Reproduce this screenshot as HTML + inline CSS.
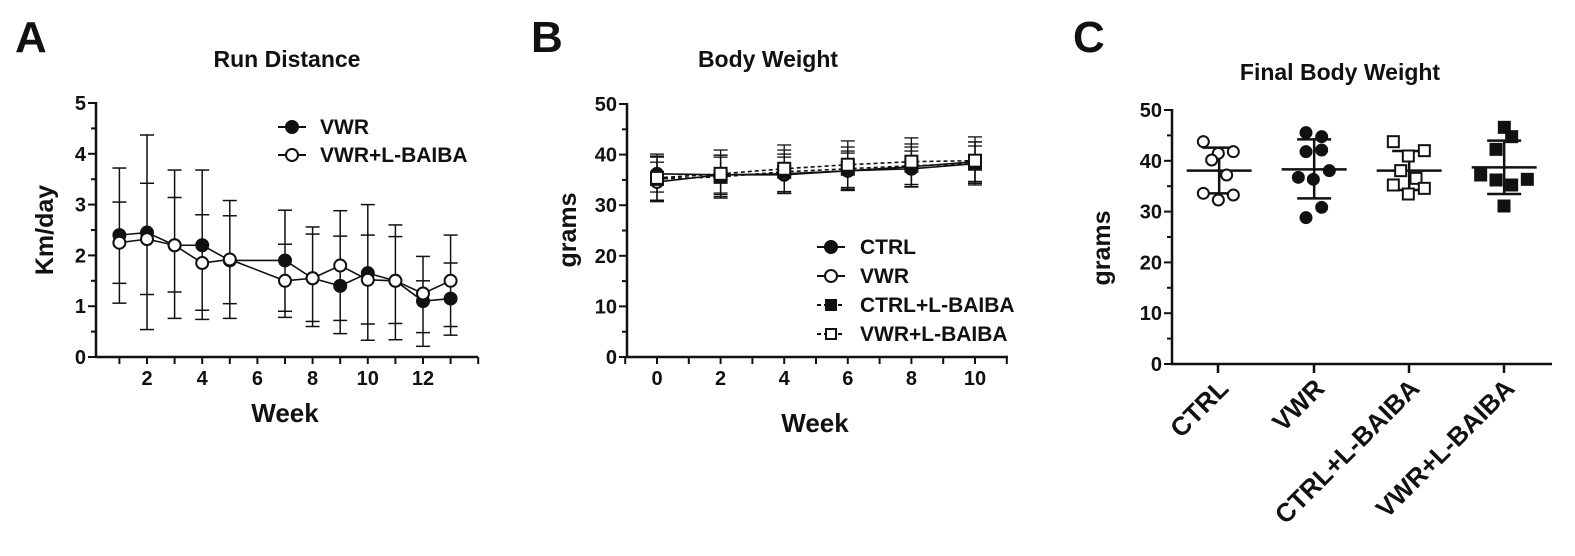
<!DOCTYPE html>
<html><head><meta charset="utf-8"><style>
body{margin:0;background:#fff}
svg{display:block}
text{font-family:"Liberation Sans",Arial,sans-serif;font-weight:bold;fill:#111}
</style></head><body>
<svg id="s" width="1575" height="556" viewBox="0 0 1575 556" xmlns="http://www.w3.org/2000/svg">
<text x="15" y="52" font-size="44">A</text>
<text x="531" y="52" font-size="44">B</text>
<text x="1073" y="52" font-size="44">C</text>
<text x="287" y="67" font-size="23" text-anchor="middle">Run Distance</text>
<text x="768" y="67" font-size="23" text-anchor="middle">Body Weight</text>
<text x="1340" y="80" font-size="23" text-anchor="middle">Final Body Weight</text>
<text transform="translate(53 230) rotate(-90)" font-size="25" text-anchor="middle">Km/day</text>
<text x="285" y="422" font-size="26" text-anchor="middle">Week</text>
<text transform="translate(576 230) rotate(-90)" font-size="25" text-anchor="middle">grams</text>
<text x="815" y="432" font-size="26" text-anchor="middle">Week</text>
<text transform="translate(1110 248) rotate(-90)" font-size="25" text-anchor="middle">grams</text>
<g id="g"></g>
</svg>
<script>
var g=document.getElementById('g'),h='';
function L(x1,y1,x2,y2,w,d){h+='<line x1="'+x1+'" y1="'+y1+'" x2="'+x2+'" y2="'+y2+'" stroke="#111" stroke-width="'+(w||2)+'"'+(d?' stroke-dasharray="'+d+'"':'')+'/>';}
function T(x,y,s,sz,a){h+='<text x="'+x+'" y="'+y+'" font-size="'+(sz||17)+'" text-anchor="'+(a||'end')+'">'+s+'</text>';}
function C(x,y,f,r){h+='<circle cx="'+x+'" cy="'+y+'" r="'+(r||6)+'" fill="'+(f?'#111':'#fff')+'" stroke="#111" stroke-width="2"/>';}
function S(x,y,f,r){r=r||6;h+='<rect x="'+(x-r)+'" y="'+(y-r)+'" width="'+2*r+'" height="'+2*r+'" fill="'+(f?'#111':'#fff')+'" stroke="#111" stroke-width="2"/>';}
function P(pts,d){h+='<polyline points="'+pts.map(p=>p.join(',')).join(' ')+'" fill="none" stroke="#111" stroke-width="1.6"'+(d?' stroke-dasharray="'+d+'"':'')+'/>';}
// Panel A
var ax=96,a0=357,ay=50.8,wx=27.6,w0=91.8;
function AY(v){return a0-v*ay}function AX(w){return w0+w*wx}
L(ax,102,ax,a0+1,2.5);L(ax-1,a0,478,a0,2.5);
for(var i=0;i<=5;i++){L(ax-8,AY(i),ax,AY(i),2);T(ax-10,AY(i)+7,i,20);}
for(var i=0.5;i<5;i+=1)L(ax-5,AY(i),ax,AY(i),2);
for(var w=1;w<=14;w++){L(AX(w),a0,AX(w),a0+7,2);if(w%2==0&&w<=12)T(AX(w),a0+28,w,20,'middle');}
var wk=[1,2,3,4,5,7,8,9,10,11,12,13];
var f=[2.4,2.45,2.2,2.2,1.9,1.9,1.55,1.4,1.65,1.5,1.1,1.15];
var o=[2.25,2.32,2.2,1.85,1.92,1.5,1.55,1.8,1.52,1.5,1.25,1.5];
var eb=[[3.72,3.05,1.45,1.06],[4.37,3.42,1.23,0.54],[3.68,3.14,1.28,0.76],[3.68,2.8,0.92,0.74],[3.08,2.78,1.05,0.76],[2.89,2.22,0.9,0.78],[2.56,2.42,0.7,0.6],[2.88,2.38,0.72,0.46],[3.0,2.4,0.65,0.33],[2.6,2.37,0.66,0.34],[1.98,1.5,0.48,0.21],[2.4,1.85,0.6,0.43]];
wk.forEach((w,i)=>{var x=AX(w),e=eb[i];L(x,AY(e[0]),x,AY(e[3]),1.5);e.forEach(v=>L(x-7,AY(v),x+7,AY(v),1.5));});
P(wk.map((w,i)=>[AX(w),AY(f[i])]));P(wk.map((w,i)=>[AX(w),AY(o[i])]));
wk.forEach((w,i)=>C(AX(w),AY(f[i]),1));wk.forEach((w,i)=>C(AX(w),AY(o[i]),0));
L(278,127,306,127,2);C(292,127,1);T(320,134,'VWR',21,'start');
L(278,155,306,155,2);C(292,155,0);T(320,162,'VWR+L-BAIBA',21,'start');
// Panel B
var bx=627,b0=357,by=5.06,bw=31.8,bw0=657;
function BY(v){return b0-v*by}function BX(w){return bw0+w*bw}
L(bx,103,bx,b0+1,2.5);L(bx-1,b0,1008,b0,2.5);
for(var i=0;i<=50;i+=10){L(bx-8,BY(i),bx,BY(i),2);T(bx-10,BY(i)+7,i,20);}
for(var i=5;i<50;i+=10)L(bx-5,BY(i),bx,BY(i),2);
for(var w=-1;w<=11;w++){L(BX(w),b0,BX(w),b0+7,2);if(w%2==0&&w>=0&&w<=10)T(BX(w),b0+28,w,20,'middle');}
var bws=[0,2,4,6,8,10];
var ser=[[36.2,36,36,36.8,37.2,38.2],[34.6,36,36.2,36.8,37.6,38.6],[35.2,35.6,36.6,37.2,37.8,38.2],[35.4,36.2,37.2,38,38.6,38.8]];
bws.forEach((w,i)=>{var x=BX(w);ser.forEach((s,k)=>{var u=s[i]+3.5+k*0.4,d=s[i]-3.6-k*0.3;L(x,BY(u),x,BY(d),1.3);L(x-7,BY(u),x+7,BY(u),1.3);L(x-7,BY(d),x+7,BY(d),1.3);});});
ser.forEach((s,k)=>P(bws.map((w,i)=>[BX(w),BY(s[i])]),k>=2?'4,3':''));
bws.forEach((w,i)=>{C(BX(w),BY(ser[0][i]),1);C(BX(w),BY(ser[1][i]),0);S(BX(w),BY(ser[2][i]),1);S(BX(w),BY(ser[3][i]),0);});
var lg=[['CTRL',0,1],['VWR',0,0],['CTRL+L-BAIBA',1,1],['VWR+L-BAIBA',1,0]];
lg.forEach((l,i)=>{var y=247+i*29;L(817,y,845,y,2,l[1]?'4,3':'');if(l[1])S(831,y,l[2],5);else C(831,y,l[2]);T(860,y+7,l[0],21,'start');});
// Panel C
var cx=1172,c0=364,cy=5.08;
function CY(v){return c0-v*cy}
L(cx,109,cx,c0+1,2.5);L(cx-1,c0,1552,c0,2.5);
for(var i=0;i<=50;i+=10){L(cx-8,CY(i),cx,CY(i),2);T(cx-10,CY(i)+7,i,20);}
for(var i=5;i<50;i+=10)L(cx-5,CY(i),cx,CY(i),2);
var gx=[1218,1314,1409,1504];
gx.forEach(x=>L(x,c0,x,c0+9,2.5));
function Z(zx,zy){return [1060+zx/3,80+zy/3];}
var pts=[
 [[430,185],[475,220],[520,215],[455,240],[500,285],[430,340],[475,360],[520,345]],
 [[738,158],[785,170],[738,215],[785,210],[715,292],[760,298],[808,272],[785,382],[738,413]],
 [[1000,185],[1045,228],[1093,212],[1022,272],[1068,295],[1000,315],[1093,325],[1045,342]],
 [[1333,142],[1355,170],[1308,208],[1262,285],[1308,300],[1355,315],[1402,298],[1332,378]]];
var mean=[[380,575,272,203,340],[665,860,268,178,355],[950,1145,272,213,0],[1235,1430,262,182,342]];
mean.forEach((m,i)=>{var a=Z(m[0],m[2]),b=Z(m[1],m[2]);L(a[0],a[1],b[0],b[1],2.5);var xm=(a[0]+b[0])/2;var t=Z(0,m[3])[1],bb=Z(0,m[4]||330)[1];L(xm,t,xm,bb,2.5);L(xm-17,t,xm+17,t,2.5);L(xm-17,bb,xm+17,bb,2.5);});
pts[0].forEach(p=>{var q=Z(p[0],p[1]);C(q[0],q[1],0,5.5);});
pts[1].forEach(p=>{var q=Z(p[0],p[1]);C(q[0],q[1],1,5.5);});
pts[2].forEach(p=>{var q=Z(p[0],p[1]);S(q[0],q[1],0,5.5);});
pts[3].forEach(p=>{var q=Z(p[0],p[1]);S(q[0],q[1],1,5.5);});
['CTRL','VWR','CTRL+L-BAIBA','VWR+L-BAIBA'].forEach((s,i)=>{h+='<text transform="translate('+(gx[i]+12)+' 390) rotate(-45)" font-size="26" text-anchor="end">'+s+'</text>';});
g.innerHTML=h;
</script>
</body></html>
